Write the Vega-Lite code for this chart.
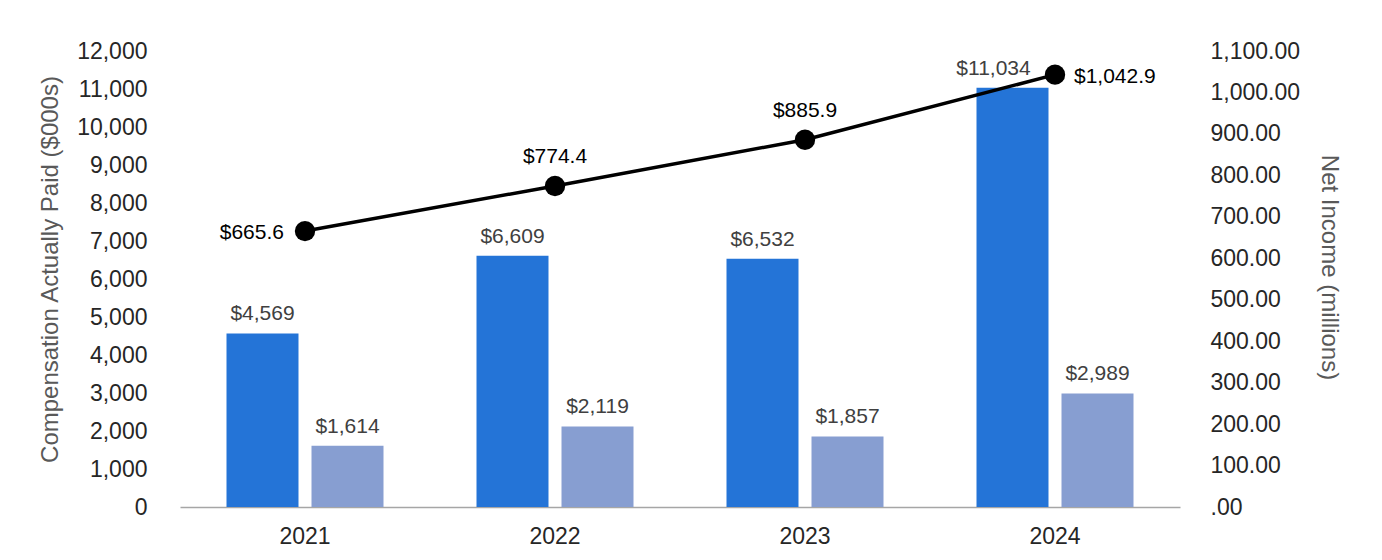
{
  "$schema": "https://vega.github.io/schema/vega-lite/v6.json",
  "width": 1000,
  "height": 456,
  "autosize": {"type": "none"},
  "padding": {"left": 180, "top": 51, "right": 202, "bottom": 53},
  "background": "#ffffff",
  "config": {"font": "Liberation Sans", "view": {"stroke": null}},
  "datasets": {
    "cap": [
      {"year": "2021", "series": "PEO CAP", "value": 4569},
      {"year": "2021", "series": "Average Non-PEO NEO CAP", "value": 1614},
      {"year": "2022", "series": "PEO CAP", "value": 6609},
      {"year": "2022", "series": "Average Non-PEO NEO CAP", "value": 2119},
      {"year": "2023", "series": "PEO CAP", "value": 6532},
      {"year": "2023", "series": "Average Non-PEO NEO CAP", "value": 1857},
      {"year": "2024", "series": "PEO CAP", "value": 11034},
      {"year": "2024", "series": "Average Non-PEO NEO CAP", "value": 2989}
    ],
    "ni": [
      {"year": "2021", "netIncome": 665.6},
      {"year": "2022", "netIncome": 774.4},
      {"year": "2023", "netIncome": 885.9},
      {"year": "2024", "netIncome": 1042.9}
    ]
  },
  "encoding": {
    "x": {
      "field": "year",
      "type": "nominal",
      "scale": {"paddingInner": 0.372, "paddingOuter": 0.186},
      "axis": {
        "title": null,
        "labelAngle": 0,
        "labelFontSize": 23,
        "labelColor": "#262626",
        "labelPadding": 18,
        "ticks": false,
        "domainColor": "#a6a6a6",
        "domainWidth": 1.5,
        "grid": false
      }
    }
  },
  "layer": [
    {
      "data": {"name": "cap"},
      "encoding": {
        "xOffset": {
          "field": "series",
          "type": "nominal",
          "sort": ["PEO CAP", "Average Non-PEO NEO CAP"],
          "scale": {"paddingInner": 0.153, "paddingOuter": 0}
        },
        "y": {
          "field": "value",
          "type": "quantitative",
          "scale": {"domain": [0, 12000], "nice": false},
          "axis": {
            "orient": "left",
            "values": [0, 1000, 2000, 3000, 4000, 5000, 6000, 7000, 8000, 9000, 10000, 11000, 12000],
            "format": ",d",
            "ticks": false,
            "domain": false,
            "grid": false,
            "labelFontSize": 23,
            "labelColor": "#262626",
            "labelPadding": 33,
            "title": "Compensation Actually Paid ($000s)",
            "titleFontSize": 24,
            "titleFontWeight": "normal",
            "titleColor": "#595959",
            "titlePadding": 14,
            "titleY": 218
          }
        }
      },
      "layer": [
        {
          "mark": {"type": "bar"},
          "encoding": {
            "color": {
              "field": "series",
              "type": "nominal",
              "scale": {"domain": ["PEO CAP", "Average Non-PEO NEO CAP"], "range": ["#2474d7", "#879ed1"]},
              "legend": null
            }
          }
        },
        {
          "transform": [{"filter": "!(datum.year == '2024' && datum.series == 'PEO CAP')"}],
          "mark": {"type": "text", "fontSize": 21, "color": "#404040", "baseline": "alphabetic", "dy": -13},
          "encoding": {"text": {"field": "value", "type": "quantitative", "format": "$,d"}}
        },
        {
          "transform": [{"filter": "datum.year == '2024' && datum.series == 'PEO CAP'"}],
          "mark": {"type": "text", "fontSize": 21, "color": "#404040", "baseline": "alphabetic", "dy": -13, "dx": -19},
          "encoding": {"text": {"field": "value", "type": "quantitative", "format": "$,d"}}
        }
      ]
    },
    {
      "data": {"name": "ni"},
      "encoding": {
        "y": {
          "field": "netIncome",
          "type": "quantitative",
          "scale": {"domain": [0, 1100], "nice": false},
          "axis": {
            "orient": "right",
            "values": [0, 100, 200, 300, 400, 500, 600, 700, 800, 900, 1000, 1100],
            "labelExpr": "datum.value == 0 ? '.00' : format(datum.value, ',.2f')",
            "ticks": false,
            "domain": false,
            "grid": false,
            "labelFontSize": 23,
            "labelColor": "#262626",
            "labelPadding": 30,
            "title": "Net Income (millions)",
            "titleFontSize": 24,
            "titleFontWeight": "normal",
            "titleColor": "#595959",
            "titlePadding": 17,
            "titleY": 216
          }
        }
      },
      "layer": [
        {"mark": {"type": "line", "color": "#000000", "strokeWidth": 3.5}},
        {"mark": {"type": "point", "shape": "circle", "filled": true, "opacity": 1, "color": "#000000", "size": 415}},
        {
          "transform": [{"filter": "datum.year == '2021'"}],
          "mark": {"type": "text", "fontSize": 21, "color": "#000000", "align": "right", "baseline": "middle", "dx": -21, "dy": 2},
          "encoding": {"text": {"field": "netIncome", "type": "quantitative", "format": "$,.1f"}}
        },
        {
          "transform": [{"filter": "datum.year == '2022' || datum.year == '2023'"}],
          "mark": {"type": "text", "fontSize": 21, "color": "#000000", "align": "center", "baseline": "alphabetic", "dy": -23},
          "encoding": {"text": {"field": "netIncome", "type": "quantitative", "format": "$,.1f"}}
        },
        {
          "transform": [{"filter": "datum.year == '2024'"}],
          "mark": {"type": "text", "fontSize": 21, "color": "#000000", "align": "left", "baseline": "middle", "dx": 19, "dy": 2},
          "encoding": {"text": {"field": "netIncome", "type": "quantitative", "format": "$,.1f"}}
        }
      ]
    }
  ],
  "resolve": {"scale": {"y": "independent"}}
}
